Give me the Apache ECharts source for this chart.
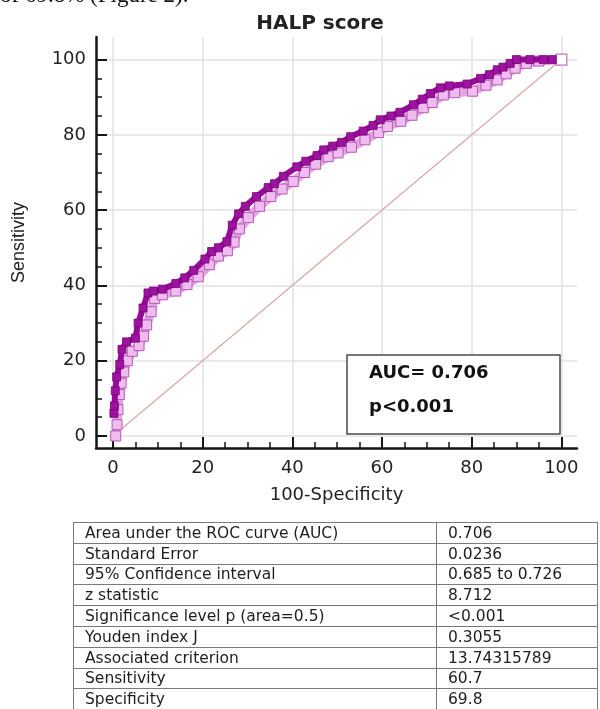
<!DOCTYPE html>
<html>
<head>
<meta charset="utf-8">
<script src="https://cdn.jsdelivr.net/npm/echarts@6/dist/echarts.min.js"></script>
<style>
  html, body { margin: 0; padding: 0; background: #fff; }
  #page { position: relative; width: 600px; height: 709px; overflow: hidden; }
  #chart { position: absolute; left: 0; top: 0; width: 600px; height: 709px; }
  .cut {
    position: absolute; left: 0; top: -17px;
    font-family: 'Liberation Serif'; font-size: 23px; line-height: 23px;
    color: #111; white-space: nowrap;
  }
  table {
    position: absolute; left: 73px; top: 522px; width: 525px;
    border-collapse: collapse; table-layout: fixed;
    font-family: 'DejaVu Sans'; font-size: 15.5px; color: #1e1e1e;
  }
  tr { height: 20.8px; }
  td { border: 1px solid #7a7a7a; padding: 0 0 0 11px; line-height: 18px; white-space: nowrap; }
  td.v { width: 149px; }
</style>
</head>
<body>
<div id="page">
  <div id="chart"></div>
  <div class="cut">of 69.8% (Figure 2).</div>
  <table id="stats"></table>
</div>
<script>
// tick positions
const majorTicks = [0, 20, 40, 60, 80, 100]
const minorTicks = [5, 10, 15, 25, 30, 35, 45, 50, 55, 65, 70, 75, 85, 90, 95]

// ROC curve, upper (dark) trace [100-specificity, sensitivity]
const darkPts = [
  [0.2, 6], [0.3, 8], [0.5, 12], [0.8, 15.7], [1.5, 19], [2, 23], [3, 25],
  [5, 26], [5.6, 30], [6.7, 34], [7.8, 38], [9, 38.5], [11, 39], [14, 40.5],
  [16, 42], [18, 44], [20.5, 47], [22, 49], [23.5, 50], [25.4, 51.6], [26.6, 56],
  [28, 59], [29.5, 61], [32, 63.6], [34.6, 66], [36, 67], [38, 69], [41, 71.5],
  [43, 73], [45.5, 74.5], [47, 76], [49, 77], [51, 78], [53, 79.5], [55.8, 81],
  [58, 82.5], [59.6, 84], [62, 85], [64, 86], [67, 88], [69, 89.5], [70.8, 91],
  [73, 92.5], [75, 93], [79, 93.5], [82, 95], [84, 96], [85.7, 97.3], [87, 98],
  [88.6, 99], [90, 100], [93, 100], [96, 100], [98, 100]
]

// ROC curve, lower (light) trace
const lightPts = [
  [0.6, 0], [0.9, 3], [1.1, 7], [1.4, 11], [1.8, 14], [2.4, 17], [3.2, 20],
  [4.3, 22.5], [5.8, 24], [6.8, 26.5], [7.5, 29.5], [8.5, 33], [9.3, 36.5],
  [11, 37.5], [14, 38.5], [16.5, 40.2], [19, 42.3], [21.5, 45.5], [23.5, 47.8],
  [25.5, 49.2], [27, 51.5], [28.2, 55], [30.2, 58], [32.7, 61], [35.2, 63.6],
  [37.7, 65.6], [40.2, 67.6], [42.7, 70], [45.2, 72.2], [48, 74.2], [50.2, 75.2],
  [53.2, 76.7], [56.2, 78.7], [59.2, 80.6], [61.2, 82.2], [64.2, 83.6], [66.7, 85.2],
  [69.2, 87.2], [71.2, 88.6], [73.7, 90.6], [76.2, 91.2], [80.2, 91.6], [83.2, 93.2],
  [85.7, 94.6], [87.7, 96.2], [89.7, 97.7], [92.2, 99], [95, 99.6], [100, 100]
]

// chance line
const refLine = [[0, 0], [100, 100]]

const statLabels = [
  'Area under the ROC curve (AUC)',
  'Standard Error',
  '95% Confidence interval',
  'z statistic',
  'Significance level p (area=0.5)',
  'Youden index J',
  'Associated criterion',
  'Sensitivity',
  'Specificity'
]
const statValues = [
  '0.706', '0.0236', '0.685 to 0.726', '8.712', '<0.001',
  '0.3055', '13.74315789', '60.7', '69.8'
]

const table = document.getElementById('stats')
statLabels.forEach((label, i) => {
  const tr = document.createElement('tr')
  const a = document.createElement('td')
  const b = document.createElement('td')
  a.textContent = label
  b.textContent = statValues[i]
  b.className = 'v'
  tr.appendChild(a)
  tr.appendChild(b)
  table.appendChild(tr)
})

const font = 'DejaVu Sans'
const axisColor = '#151515'
const labelStyle = { fontFamily: font, fontSize: 18, color: '#222' }

const chart = echarts.init(document.getElementById('chart'))

const lightData = lightPts.map((p, i) =>
  i === lightPts.length - 1
    ? { value: p, symbolSize: 11, itemStyle: { color: '#fff', borderColor: '#c070c0', borderWidth: 1.2 } }
    : p
)

const option = {
  animation: false,
  title: {
    text: 'HALP score',
    left: 315,
    top: 9,
    textAlign: 'center',
    textStyle: { fontFamily: font, fontWeight: 'bold', fontSize: 20, color: '#222' }
  },
  grid: { left: 96, right: 23, top: 37, bottom: 261 },
  xAxis: [
    {
      type: 'value',
      min: -3.8,
      max: 103.5,
      position: 'bottom',
      name: '100-Specificity',
      nameLocation: 'middle',
      nameGap: 38,
      nameTextStyle: labelStyle,
      axisLine: { show: true, onZero: false, lineStyle: { color: axisColor, width: 2.5 } },
      axisTick: { show: true, inside: true, length: 11, customValues: majorTicks, lineStyle: { color: axisColor, width: 2 } },
      axisLabel: { customValues: majorTicks, margin: 11, ...labelStyle },
      splitLine: { show: true, lineStyle: { color: '#e2e2e2', width: 1.5 } }
    },
    {
      type: 'value',
      min: -3.8,
      max: 103.5,
      position: 'bottom',
      axisLine: { show: false, onZero: false },
      axisTick: { show: true, inside: true, length: 6, customValues: minorTicks, lineStyle: { color: axisColor, width: 1.5 } },
      axisLabel: { show: false },
      splitLine: { show: false }
    }
  ],
  yAxis: [
    {
      type: 'value',
      min: -3.2,
      max: 106,
      position: 'left',
      name: 'Sensitivity',
      nameLocation: 'middle',
      nameGap: 68,
      nameTextStyle: { fontFamily: 'Liberation Sans', fontSize: 18, color: '#222' },
      axisLine: { show: true, onZero: false, lineStyle: { color: axisColor, width: 2.5 } },
      axisTick: { show: true, inside: true, length: 11, customValues: majorTicks, lineStyle: { color: axisColor, width: 2 } },
      axisLabel: { customValues: majorTicks, margin: 10, ...labelStyle },
      splitLine: { show: true, lineStyle: { color: '#e2e2e2', width: 1.5 } }
    },
    {
      type: 'value',
      min: -3.2,
      max: 106,
      position: 'left',
      axisLine: { show: false, onZero: false },
      axisTick: { show: true, inside: true, length: 6, customValues: minorTicks, lineStyle: { color: axisColor, width: 1.5 } },
      axisLabel: { show: false },
      splitLine: { show: false }
    }
  ],
  series: [
    {
      name: 'reference',
      type: 'line',
      data: refLine,
      symbol: 'none',
      lineStyle: { color: '#d9a7a7', width: 1.2 },
      z: 1
    },
    {
      name: 'lower',
      type: 'line',
      data: lightData,
      symbol: 'rect',
      symbolSize: 10,
      showAllSymbol: true,
      lineStyle: { color: '#e4a4e4', width: 9 },
      itemStyle: { color: '#efbcef', borderColor: '#b55bb5', borderWidth: 1 },
      z: 2
    },
    {
      name: 'upper',
      type: 'line',
      data: darkPts,
      symbol: 'rect',
      symbolSize: 8,
      showAllSymbol: true,
      lineStyle: { color: '#980a9a', width: 6 },
      itemStyle: { color: '#9c139e', borderColor: '#7a007c', borderWidth: 0.8 },
      z: 3
    }
  ],
  graphic: [
    {
      type: 'rect',
      z: 100,
      shape: { x: 347, y: 355, width: 213, height: 79 },
      style: { fill: '#fff', stroke: '#4a4a4a', lineWidth: 1.5 }
    },
    {
      type: 'text',
      z: 101,
      x: 369,
      y: 373,
      style: { text: 'AUC= 0.706', fontFamily: font, fontWeight: 'bold', fontSize: 18, fill: '#111', verticalAlign: 'middle' }
    },
    {
      type: 'text',
      z: 101,
      x: 369,
      y: 407,
      style: { text: 'p<0.001', fontFamily: font, fontWeight: 'bold', fontSize: 18, fill: '#111', verticalAlign: 'middle' }
    }
  ]
}

chart.setOption(option)
</script>
</body>
</html>
